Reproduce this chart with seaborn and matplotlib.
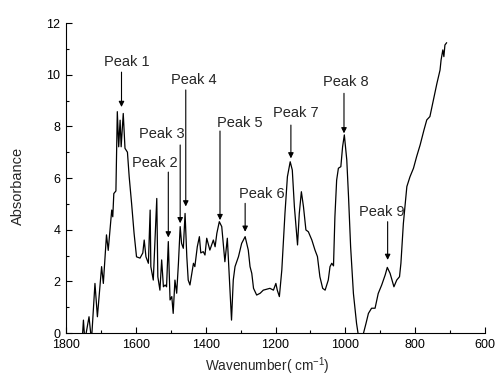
import numpy as np
import pandas as pd
import seaborn as sns
import matplotlib.pyplot as plt

# spectrum
wavenumber = [1755, 1750, 1746, 1734, 1727, 1717, 1710, 1698, 1693, 1684, 1679, 1669, 1666,
              1663, 1657, 1653, 1649, 1645, 1642, 1636, 1631, 1624, 1619, 1612, 1605, 1598,
              1588, 1580, 1576, 1571, 1564, 1559, 1557, 1550, 1540, 1537, 1531, 1526, 1521,
              1516, 1512, 1507, 1502, 1497, 1493, 1488, 1483, 1478, 1473, 1469, 1464, 1459,
              1454, 1450, 1445, 1435, 1431, 1424, 1418, 1414, 1407, 1402, 1397, 1388, 1378,
              1373, 1368, 1361, 1354, 1349, 1345, 1338, 1332, 1326, 1321, 1316, 1306, 1297,
              1287, 1278, 1273, 1268, 1263, 1254, 1244, 1235, 1216, 1206, 1199, 1195, 1189,
              1182, 1173, 1166, 1158, 1152, 1146, 1137, 1132, 1126, 1120, 1113, 1106, 1096,
              1087, 1080, 1073, 1065, 1058, 1049, 1044, 1039, 1034, 1030, 1025, 1020, 1013,
              1008, 1003, 996, 991, 985, 977, 968, 963, 956, 948, 941, 934, 925, 915, 906,
              896, 886, 880, 872, 861, 853, 845, 841, 834, 824, 815, 805, 796, 786, 775, 767,
              758, 748, 738, 729, 726, 721, 718, 715, 710]
absorbance = [-0.6, 0.5, -0.3, 0.63, -0.3, 1.92, 0.63, 2.57, 1.92, 3.8, 3.2, 4.76, 4.5,
              5.4, 5.5, 8.57, 7.21, 8.24, 7.21, 8.5, 7.15, 7.0, 6.05, 5.0, 3.86, 2.95,
              2.9, 3.1, 3.6, 2.95, 2.7, 4.76, 2.57, 2.05, 5.21, 2.18, 1.66, 2.83, 1.79,
              1.86, 1.79, 3.54, 1.28, 1.41, 0.76, 2.05, 1.54, 2.7, 4.12, 3.47, 3.28, 4.63,
              2.95, 2.05, 1.86, 2.7, 2.57, 3.34, 3.73, 3.1, 3.15, 3.02, 3.67, 3.21, 3.6,
              3.34, 3.86, 4.31, 4.12, 3.34, 2.76, 3.67, 2.05, 0.5, 2.05, 2.57, 2.96, 3.47,
              3.73, 3.21, 2.57, 2.31, 1.73, 1.47, 1.54, 1.66, 1.73, 1.66, 1.92, 1.66, 1.41,
              2.44, 4.63, 6.05, 6.63, 6.31, 4.89, 3.41, 4.63, 5.47, 4.89, 3.99, 3.92, 3.6,
              3.21, 2.96, 2.18, 1.73, 1.66, 2.05, 2.57, 2.7, 2.6, 4.5, 5.92, 6.38, 6.44,
              7.21, 7.67, 6.7, 5.28, 3.34, 1.53, 0.37, -0.08, -0.27, 0.0, 0.37, 0.76, 0.96, 0.96, 1.53,
              1.86, 2.25, 2.54, 2.31, 1.79, 2.05, 2.18, 2.7, 4.24, 5.67, 6.05, 6.38, 6.83, 7.28, 7.86, 8.25,
              8.38, 9.02, 9.66, 10.18, 10.57, 10.96, 10.7, 11.15, 11.24]

# peak labels: label position, arrow x, arrow tail and head
peak_names = ['Peak 1', 'Peak 2', 'Peak 3', 'Peak 4', 'Peak 5', 'Peak 6', 'Peak 7', 'Peak 8', 'Peak 9']
label_x = [1626, 1545, 1526, 1435, 1302, 1240, 1143, 998, 896]
label_y = [10.5, 6.6, 7.7, 9.8, 8.15, 5.37, 8.53, 9.72, 4.7]
arrow_x = [1641, 1507, 1473, 1457, 1359, 1287, 1156, 1004, 879]
arrow_tail = [10.1, 6.23, 7.28, 9.41, 7.82, 5.02, 8.05, 9.28, 4.31]
arrow_head = [8.75, 3.7, 4.25, 4.9, 4.37, 3.92, 6.76, 7.73, 2.83]

df = pd.DataFrame({'Wavenumber': wavenumber, 'Absorbance': absorbance})

sns.set_style('ticks')
plt.rcParams['font.family'] = ['Liberation Sans', 'DejaVu Sans']
plt.rcParams['mathtext.default'] = 'regular'

fig, ax = plt.subplots(figsize=(4.96, 3.78), dpi=100)
fig.subplots_adjust(left=0.133, right=0.978, bottom=0.119, top=0.939)

sns.lineplot(data=df, x='Wavenumber', y='Absorbance', sort=False, color='black', lw=0.9, ax=ax)

for name, lx, ly, axx, at, ah in zip(peak_names, label_x, label_y, arrow_x, arrow_tail, arrow_head):
    ax.text(lx, ly, name, ha='center', va='center', fontsize=10.5)
    ax.annotate('', xy=(axx, ah), xytext=(axx, at),
                arrowprops=dict(arrowstyle='-|>', color='black', lw=0.8, mutation_scale=8,
                                shrinkA=0, shrinkB=0))

ax.set_xlim(1800, 600)
ax.set_ylim(0, 12)
ax.set_xticks(np.arange(1800, 599, -200))
ax.set_xticks(np.arange(1800, 599, -100), minor=True)
ax.set_yticks(np.arange(0, 13, 2))
ax.set_yticks(np.arange(0, 13, 1), minor=True)
ax.tick_params(which='both', direction='in', labelsize=9, width=0.8, colors='black')
ax.tick_params(which='major', length=4)
ax.tick_params(which='minor', length=2.5)
ax.tick_params(axis='x', pad=4.5)
ax.tick_params(axis='y', pad=4)
ax.set_xlabel('Wavenumber( cm$^{-1}$)', fontsize=9.8)
ax.set_ylabel('Absorbance', fontsize=10.5)
ax.xaxis.set_label_coords(0.48, -0.072)
ax.yaxis.set_label_coords(-0.098, 0.475)
sns.despine(ax=ax)
for s in ['left', 'bottom']:
    ax.spines[s].set_linewidth(0.8)
    ax.spines[s].set_color('black')

fig.savefig('out.png', dpi=100)
